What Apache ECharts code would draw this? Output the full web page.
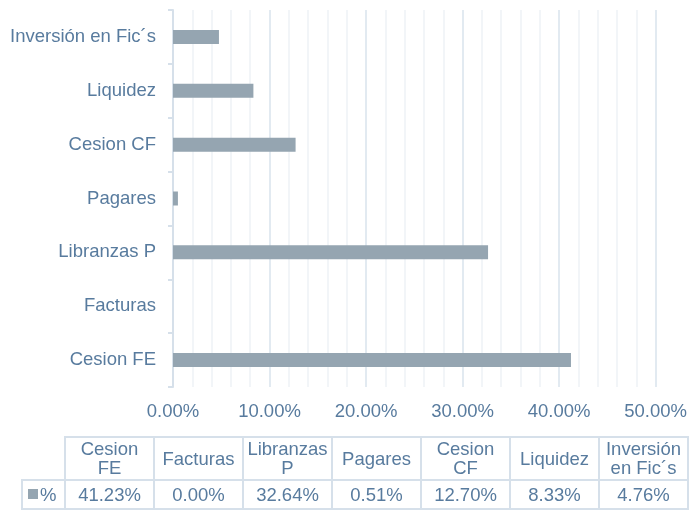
<!DOCTYPE html>
<html>
<head>
<meta charset="utf-8">
<script src="https://cdn.jsdelivr.net/npm/echarts@6/dist/echarts.min.js"></script>
<style>
html,body{margin:0;padding:0;background:#fff;}
#chart{width:690px;height:510px;}
</style>
</head>
<body>
<div id="chart"></div>
<script>
const categories = ['Cesion FE', 'Facturas', 'Libranzas P', 'Pagares', 'Cesion CF', 'Liquidez', 'Inversión en Fic´s'];
const tableHeaders = ['Cesion\nFE', 'Facturas', 'Libranzas\nP', 'Pagares', 'Cesion\nCF', 'Liquidez', 'Inversión\nen Fic´s'];
const values = [41.23, 0.00, 32.64, 0.51, 12.70, 8.33, 4.76];
const seriesName = '%';
const xTickLabels = ['0.00%', '10.00%', '20.00%', '30.00%', '40.00%', '50.00%'];

const textColor = '#587b9e';
const barColor = '#95a5b1';
const lineColor = '#d6e0ea';
const font = 'Liberation Sans, Arial, sans-serif';
const fs = 18.5;

const chart = echarts.init(document.getElementById('chart'), null, {renderer: 'canvas'});

// data table built from arrays
const tbl = {left: 65, colW: 89, top: 437, mid: 480, bottom: 509, keyLeft: 22};
const g = [];
tableHeaders.forEach((h, i) => {
  const x = tbl.left + i * tbl.colW;
  g.push({type: 'rect', shape: {x: x, y: tbl.top, width: tbl.colW, height: tbl.mid - tbl.top},
    style: {fill: 'none', stroke: lineColor, lineWidth: 2}, silent: true});
  g.push({type: 'rect', shape: {x: x, y: tbl.mid, width: tbl.colW, height: tbl.bottom - tbl.mid},
    style: {fill: 'none', stroke: lineColor, lineWidth: 2}, silent: true});
  g.push({type: 'text', x: x + tbl.colW / 2, y: (tbl.top + tbl.mid) / 2 + 1,
    style: {text: h, fill: textColor, font: fs + 'px ' + font, align: 'center', verticalAlign: 'middle', lineHeight: 18.5}, silent: true});
  g.push({type: 'text', x: x + tbl.colW / 2, y: (tbl.mid + tbl.bottom) / 2 + 1,
    style: {text: values[i].toFixed(2) + '%', fill: textColor, font: fs + 'px ' + font, align: 'center', verticalAlign: 'middle'}, silent: true});
});
g.push({type: 'rect', shape: {x: tbl.keyLeft, y: tbl.mid, width: tbl.left - tbl.keyLeft, height: tbl.bottom - tbl.mid},
  style: {fill: 'none', stroke: lineColor, lineWidth: 2}, silent: true});
g.push({type: 'rect', shape: {x: 28, y: 489, width: 10, height: 10}, style: {fill: barColor}, silent: true});
g.push({type: 'text', x: 40, y: (tbl.mid + tbl.bottom) / 2 + 1,
  style: {text: seriesName, fill: textColor, font: fs + 'px ' + font, align: 'left', verticalAlign: 'middle'}, silent: true});

chart.setOption({
  animation: false,
  backgroundColor: '#fff',
  grid: {left: 173, right: 31, top: 10, bottom: 123, containLabel: false},
  xAxis: {
    type: 'value', min: 0, max: 50, interval: 10,
    axisLine: {show: false}, axisTick: {show: false},
    axisLabel: {color: textColor, fontSize: fs, fontFamily: font, margin: 15,
      formatter: (v) => xTickLabels[Math.round(v / 10)]},
    splitLine: {show: true, lineStyle: {color: '#d9e3ed', width: 1.5}},
    minorTick: {show: false, splitNumber: 5},
    minorSplitLine: {show: true, lineStyle: {color: '#eef2f6', width: 1.5}}
  },
  yAxis: {
    type: 'category', data: categories,
    axisLine: {show: true, lineStyle: {color: lineColor, width: 2}},
    axisTick: {show: true, length: 5, lineStyle: {color: lineColor, width: 2}},
    axisLabel: {color: textColor, fontSize: fs, fontFamily: font, margin: 17},
    splitLine: {show: false}
  },
  series: [{
    name: seriesName, type: 'bar', data: values, barWidth: 14,
    itemStyle: {color: barColor}
  }],
  graphic: g
});
</script>
</body>
</html>
